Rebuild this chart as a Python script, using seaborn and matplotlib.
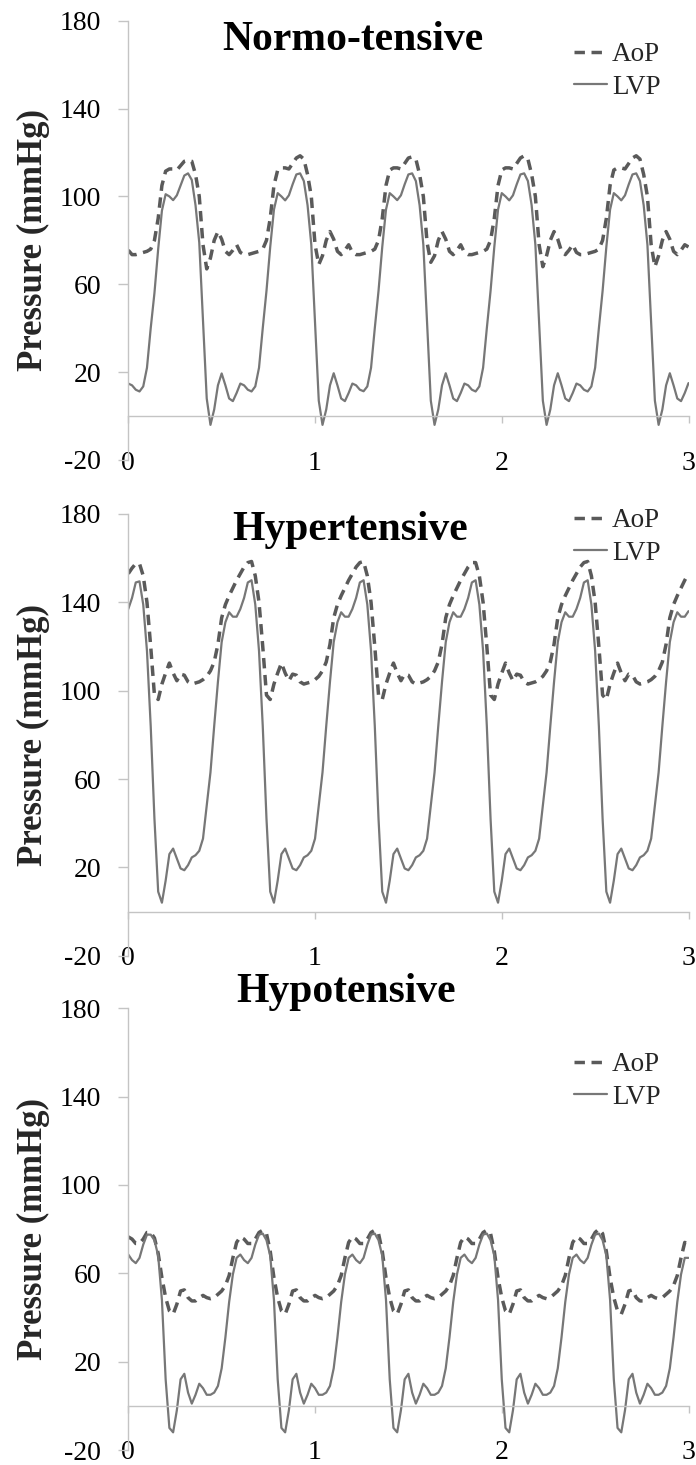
import numpy as np
import pandas as pd
import matplotlib
matplotlib.use("Agg")
import matplotlib.pyplot as plt
import seaborn as sns

# sample times (s), 0.02 s apart
time_s = np.round(np.arange(151) * 0.02, 2)

titles = ["Normo-tensive", "Hypertensive", "Hypotensive"]
series_labels = ["AoP", "LVP"]
y_ticks = [-20, 20, 60, 100, 140, 180]
x_ticks = [0, 1, 2, 3]

normo_aop = [
    75.5, 73.5, 73.5, 74, 74.5, 75, 76, 80, 90, 105, 111.5, 112.5, 112.5, 112, 114, 116, 116.5, 116, 110, 100, 78, 67, 72, 80, 84, 80.5, 75, 73.5, 75.5, 78,
    74.5, 73.5, 73.5, 74, 74.5, 75, 76, 80, 90, 105, 112, 113, 113, 112.5, 115, 117.5, 118.5, 117, 110, 100, 78, 69, 73, 80, 84, 80.5, 75, 73.5, 75.5, 78,
    74.5, 73.5, 73.5, 74, 74.5, 75, 76, 80, 90, 105, 112, 113, 113, 112.5, 115, 117.5, 118, 117, 110, 100, 79, 70, 73, 80, 84, 80.5, 75, 73.5, 75.5, 78,
    74.5, 73.5, 73.5, 74, 74.5, 75, 76, 80, 90, 105, 112, 113, 113, 112.5, 115, 117.5, 118.5, 117, 110, 100, 78, 68, 73, 80, 84, 80.5, 75, 73.5, 75.5, 78,
    74.5, 73.5, 73.5, 74, 74.5, 75, 76, 80, 90, 105, 112, 113, 113, 112.5, 115, 117.5, 118.5, 117, 110, 100, 78, 68, 73, 80, 84, 80.5, 75, 73.5, 75.5, 78,
    77,
]
normo_lvp = [
    14.8, 14, 12, 11.2, 13.5, 22, 40, 56, 76, 93.5, 101, 100, 98.3, 100.5, 105, 109.5, 110.5, 107.5, 96, 79, 43, 8, -4, 3, 14, 19.4, 14, 8, 6.8, 10.5,
    14.8, 14, 12, 11.2, 13.5, 22, 40, 57, 77, 94, 101.5, 100, 98.2, 100.5, 105.5, 110, 110.5, 107, 96, 78, 42, 7, -4, 3, 14, 19.5, 14, 8, 6.8, 10.5,
    14.8, 14, 12, 11.3, 13.5, 22, 40, 57, 77, 94, 101.5, 100, 98.3, 100.5, 105.5, 110, 110.5, 107, 96, 78, 42, 7, -4, 3, 14, 19.5, 14, 8, 6.8, 10.5,
    14.8, 14, 12, 11.2, 13.5, 22, 40, 57, 77, 94, 101.5, 100, 98.2, 100.5, 105.5, 110, 110.5, 107, 96, 78, 42, 7, -4, 3, 14, 19.5, 14, 8, 6.8, 10.5,
    14.8, 14, 12, 11.2, 13.5, 22, 40, 57, 77, 94, 101.5, 100, 98.2, 100.5, 105.5, 110, 110.5, 107, 96, 78, 42, 7, -4, 3, 14, 19.5, 14, 8, 6.8, 10.5,
    15,
]

hyper_aop = [
    153, 155.5, 157.5, 157.5, 152, 140, 120, 98, 96, 103, 108, 112.5, 108, 104.5, 107.5, 107, 104, 103, 103.5, 104, 105, 106.5, 109, 113, 121, 133, 139, 143, 146.5, 150,
    153, 156, 158, 158.5, 152, 140, 120, 98, 96, 103, 108, 112.5, 108, 104.5, 107.5, 107, 104, 103, 103.5, 104, 105, 106.5, 109, 113, 121, 133, 139, 143, 146.5, 150,
    153, 156, 158, 158.5, 152, 140, 120, 98, 96, 103, 108, 112.5, 108, 104.5, 107.5, 107, 104, 103, 103.5, 104, 105, 106.5, 109, 113, 121, 133, 139, 143, 146.5, 150,
    153, 156, 158, 158, 152, 140, 120, 98, 96, 103, 108, 112.5, 108, 104.5, 107.5, 107, 104, 103, 103.5, 104, 105, 106.5, 109, 113, 121, 133, 139, 143, 146.5, 150,
    153, 156, 158, 158.5, 152, 140, 120, 98, 96, 103, 108, 112.5, 108, 104.5, 107.5, 107, 104, 103, 103.5, 104, 105, 106.5, 109, 113, 121, 133, 139, 143, 146.5, 150,
    153,
]
hyper_lvp = [
    137, 142, 149, 149.5, 139, 118, 84, 42, 9, 4, 14, 26, 28.5, 24, 19.5, 18.7, 21, 24.5, 25.5, 27.5, 33, 48, 63, 84, 104, 122, 131, 135.5, 133.5, 133.5,
    137, 142, 149, 150, 139, 118, 84, 42, 9, 4, 14, 26, 28.5, 24, 19.5, 18.7, 21, 24.5, 25.5, 27.5, 33, 48, 63, 84, 104, 122, 131, 135.5, 133.5, 133.5,
    137, 142, 149, 150, 139, 118, 84, 42, 9, 4, 14, 26, 28.5, 24, 19.5, 18.7, 21, 24.5, 25.5, 27.5, 33, 48, 63, 84, 104, 122, 131, 135.5, 133.5, 133.5,
    137, 142, 149, 150, 139, 118, 84, 42, 9, 4, 14, 26, 28.5, 24, 19.5, 18.7, 21, 24.5, 25.5, 27.5, 33, 48, 63, 84, 104, 122, 131, 135.5, 133.5, 133.5,
    137, 142, 149, 150, 139, 118, 84, 42, 9, 4, 14, 26, 28.5, 24, 19.5, 18.7, 21, 24.5, 25.5, 27.5, 33, 48, 63, 84, 104, 122, 131, 135.5, 133.5, 133.5,
    136,
]

hypo_aop = [
    76.5, 75.5, 73.5, 73.5, 75.5, 78.5, 78.5, 76, 69, 58, 49, 43, 41.5, 46, 52, 52.5, 49, 47.5, 47.5, 49, 50, 49, 48.5, 49, 50.5, 52, 54.5, 59, 67, 74,
    76.5, 75.5, 73.5, 73.5, 75.5, 78.5, 79.5, 78, 70, 58, 49, 43, 41.5, 46, 52, 52.5, 49, 47.5, 47.5, 49, 50, 49, 48.5, 49, 50.5, 52, 54.5, 59, 67, 74,
    76.5, 75.5, 73.5, 73.5, 75.5, 78.5, 79.5, 78, 70, 58, 49, 43, 41.5, 46, 52, 52.5, 49, 47.5, 47.5, 49, 50, 49, 48.5, 49, 50.5, 52, 54.5, 59, 67, 74,
    76.5, 75.5, 73.5, 73.5, 75.5, 78.5, 79.5, 78, 70, 58, 49, 43, 41.5, 46, 52, 52.5, 49, 47.5, 47.5, 49, 50, 49, 48.5, 49, 50.5, 52, 54.5, 59, 67, 74,
    76.5, 75.5, 73.5, 73.5, 75.5, 78.5, 80, 78, 70, 58, 49, 43, 41.5, 46, 52, 52.5, 49, 47.5, 47.5, 49, 50, 49, 48.5, 49, 50.5, 52, 54.5, 59, 67, 74,
    73,
]
hypo_lvp = [
    68.5, 66, 64.6, 67, 73, 77.5, 77.5, 75, 68, 48, 12, -10, -12, -2, 12, 14.5, 6, 1, 5, 10, 8, 5, 5, 6, 9, 17, 31, 47, 59.5, 67,
    68.5, 66, 64.6, 67, 73, 77.5, 78, 75, 68, 48, 12, -10, -12, -2, 12, 14.5, 6, 1, 5, 10, 8, 5, 5, 6, 9, 17, 31, 47, 59.5, 67,
    68.5, 66, 64.6, 67, 73, 77.5, 78, 75, 68, 48, 12, -10, -12, -2, 12, 14.5, 6, 1, 5, 10, 8, 5, 5, 6, 9, 17, 31, 47, 59.5, 67,
    68.5, 66, 64.6, 67, 73, 77.5, 78, 75, 68, 48, 12, -10, -12, -2, 12, 14.5, 6, 1, 5, 10, 8, 5, 5, 6, 9, 17, 31, 47, 59.5, 67,
    68.5, 66, 64.6, 67, 73, 77.5, 78, 75, 68, 48, 12, -10, -12, -2, 12, 14.5, 6, 1, 5, 10, 8, 5, 5, 6, 9, 17, 31, 47, 59.5, 67,
    67,
]

aop_sets = [normo_aop, hyper_aop, hypo_aop]
lvp_sets = [normo_lvp, hyper_lvp, hypo_lvp]

# ---------------- styling / layout ----------------
sns.set_theme(style="white")
plt.rcParams['font.family'] = ['Liberation Serif', 'DejaVu Serif']

W, H = 696, 1465
fig = plt.figure(figsize=(W / 100, H / 100), dpi=100)

axis_col = "#c4c4c4"
aop_col = "#5a5a5a"
lvp_col = "#777777"

left_px, right_px = 128.3, 688.5
panel_px = [(20.7, 460.0), (514.0, 955.7), (1008.3, 1450.0)]
title_pos = [(353, 50), (350, 540), (346, 1002)]
legend_top = [42, 508, 1052]

for i in range(3):
    top, bot = panel_px[i]
    ax = fig.add_axes([left_px / W, 1 - bot / H, (right_px - left_px) / W, (bot - top) / H])
    df = pd.DataFrame({"t": time_s, "AoP": aop_sets[i], "LVP": lvp_sets[i]})
    sns.lineplot(data=df, x="t", y="AoP", ax=ax, color=aop_col, linewidth=2.5,
                 linestyle=(0, (3.0, 1.9)), label=series_labels[0], sort=False)
    sns.lineplot(data=df, x="t", y="LVP", ax=ax, color=lvp_col, linewidth=1.6,
                 label=series_labels[1], sort=False)

    ax.set_xlim(0, 3)
    ax.set_ylim(-20, 180)
    ax.set_xticks(x_ticks)
    ax.set_xticklabels([str(v) for v in x_ticks])
    ax.set_yticks(y_ticks)
    ax.set_yticklabels([str(v) for v in y_ticks])
    ax.set_xlabel("")
    ax.set_ylabel("Pressure (mmHg)", fontsize=25, fontweight="bold")
    ax.yaxis.set_label_coords(-0.14, 0.5)

    for s in ["top", "right"]:
        ax.spines[s].set_visible(False)
    ax.spines["bottom"].set_position(("data", 0))
    for s in ["left", "bottom"]:
        ax.spines[s].set_color(axis_col)
        ax.spines[s].set_linewidth(1.0)
    ax.tick_params(axis="y", direction="out", length=7, width=1.0, color=axis_col,
                   pad=12.7, labelsize=20, labelcolor="black", left=True)
    ax.tick_params(axis="x", direction="out", length=5, width=1.0, color=axis_col,
                   pad=19.8, labelsize=20, labelcolor="black", bottom=True)
    ax.grid(False)
    ax.set_facecolor("none")

    tx, ty = title_pos[i]
    fig.text(tx / W, 1 - ty / H, titles[i], ha="center", va="baseline",
             fontsize=30, fontweight="bold", color="black")

    ax.legend(loc="upper left", bbox_to_anchor=(574 / W, 1 - legend_top[i] / H),
              bbox_transform=fig.transFigure, frameon=False, fontsize=19.5,
              handlelength=1.2, handletextpad=0.2, labelspacing=0.28,
              borderpad=0, borderaxespad=0)

fig.savefig("out.png", dpi=100)
